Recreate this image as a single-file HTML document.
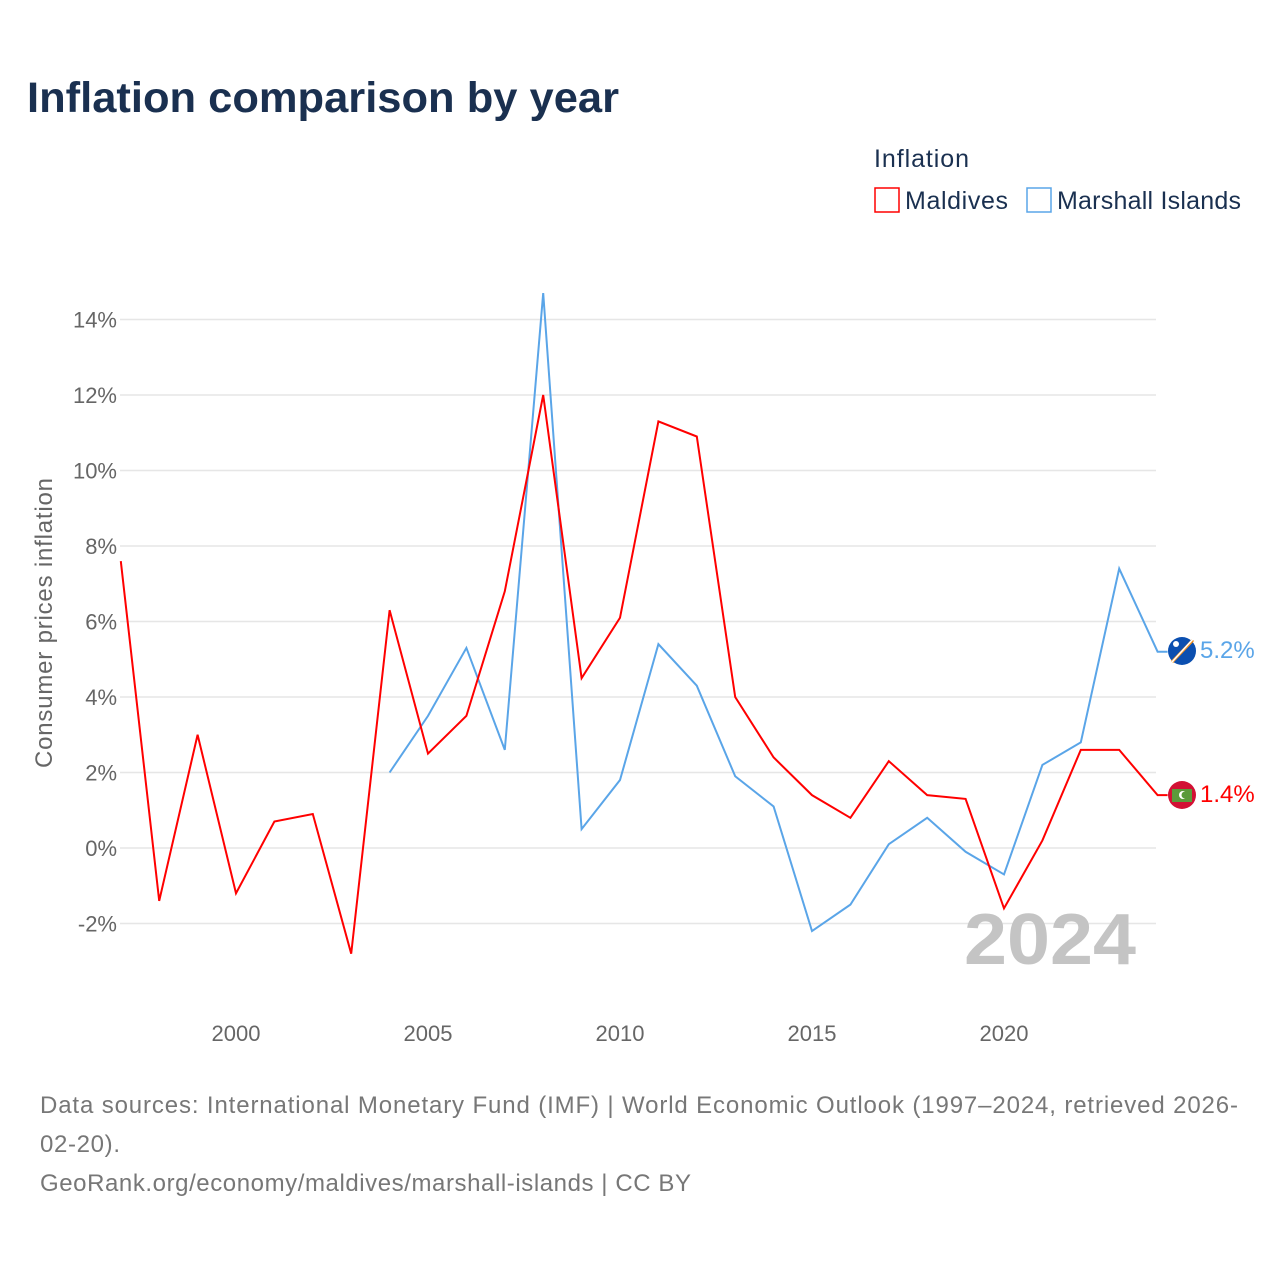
<!DOCTYPE html>
<html><head><meta charset="utf-8"><style>
body{margin:0;background:#fff;font-family:"Liberation Sans",sans-serif;}
</style></head><body>
<svg width="1280" height="1280" xmlns="http://www.w3.org/2000/svg" style="font-family:'Liberation Sans',sans-serif">
<text x="27" y="112" font-size="43" font-weight="bold" fill="#1a3050" textLength="592" lengthAdjust="spacingAndGlyphs">Inflation comparison by year</text>
<text x="874" y="167" font-size="25" fill="#1a3050" textLength="95">Inflation</text>
<g><rect x="875" y="188" width="24" height="24" fill="none" stroke="#f00" stroke-width="1.5"/><text x="905" y="209" font-size="25" fill="#1a3050" textLength="103">Maldives</text></g>
<g><rect x="1027" y="188" width="24" height="24" fill="none" stroke="#5aa5e8" stroke-width="1.5"/><text x="1057" y="209" font-size="25" fill="#1a3050" textLength="184">Marshall Islands</text></g>
<g id="grid"></g><g id="yt"></g><g id="xt"></g>
<text x="52" y="623" font-size="24" fill="#666" transform="rotate(-90 52 623)" text-anchor="middle" textLength="290">Consumer prices inflation</text>
<text x="964" y="964" font-size="72" font-weight="bold" fill="#c4c4c4" textLength="172" lengthAdjust="spacingAndGlyphs">2024</text>
<g id="lines"></g>
<g><circle cx="1182" cy="651" r="14" fill="#0b4fb0"/><line x1="1172" y1="662" x2="1193" y2="640" stroke="#f7931e" stroke-width="3"/><line x1="1172" y1="662" x2="1193" y2="639" stroke="#fff" stroke-width="1.5"/><circle cx="1176" cy="644" r="3" fill="#fff"/></g>
<text x="1200" y="658" font-size="24" fill="#5aa5e8">5.2%</text>
<g><circle cx="1182" cy="795" r="14" fill="#d21034"/><rect x="1172" y="789" width="20" height="13" fill="#5b9a3b"/><circle cx="1183" cy="795" r="4" fill="#fff"/><circle cx="1185" cy="795" r="3.5" fill="#5b9a3b"/></g>
<text x="1200" y="802" font-size="24" fill="#f00">1.4%</text>
<text x="40" y="1113" font-size="24" fill="#777" textLength="1198">Data sources: International Monetary Fund (IMF) | World Economic Outlook (1997–2024, retrieved 2026-</text>
<text x="40" y="1152" font-size="24" fill="#777" textLength="80">02-20).</text>
<text x="40" y="1191" font-size="24" fill="#777" textLength="651">GeoRank.org/economy/maldives/marshall-islands | CC BY</text>
</svg>
<script>
const yearsMV=[1997,1998,1999,2000,2001,2002,2003,2004,2005,2006,2007,2008,2009,2010,2011,2012,2013,2014,2015,2016,2017,2018,2019,2020,2021,2022,2023,2024];
const maldives=[7.6,-1.4,3.0,-1.2,0.7,0.9,-2.8,6.3,2.5,3.5,6.8,12.0,4.5,6.1,11.3,10.9,4.0,2.4,1.4,0.8,2.3,1.4,1.3,-1.6,0.2,2.6,2.6,1.4];
const yearsMH=[2004,2005,2006,2007,2008,2009,2010,2011,2012,2013,2014,2015,2016,2017,2018,2019,2020,2021,2022,2023,2024];
const marshall=[2.0,3.5,5.3,2.6,14.7,0.5,1.8,5.4,4.3,1.9,1.1,-2.2,-1.5,0.1,0.8,-0.1,-0.7,2.2,2.8,7.4,5.2];
const yTicks=[-2,0,2,4,6,8,10,12,14];
const xTicks=[2000,2005,2010,2015,2020];
const X=y=>120.8+(y-1997)*38.4, Y=v=>848-v*37.75;
const NS="http://www.w3.org/2000/svg";
function mk(t,a,p){const e=document.createElementNS(NS,t);for(const k in a)e.setAttribute(k,a[k]);p.appendChild(e);return e;}
const g=document.getElementById('grid'),yt=document.getElementById('yt'),xt=document.getElementById('xt'),L=document.getElementById('lines');
yTicks.forEach(v=>{const l=mk('line',{x1:120,x2:1156,y1:Y(v),y2:Y(v),stroke:'#e6e6e6','stroke-width':1.5},g);


const t=mk('text',{x:117,y:Y(v)+8,'font-size':22,fill:'#666','text-anchor':'end'},yt);t.textContent=v+'%';

});
xTicks.forEach(v=>{const t=mk('text',{x:X(v),y:1041,'font-size':22,fill:'#666','text-anchor':'middle'},xt);t.textContent=v;

});
function line(ys,vs,c,name){let pts=ys.map((y,i)=>X(y)+','+Y(vs[i]));pts.push((X(ys[ys.length-1])+10)+','+Y(vs[vs.length-1]));
const p=mk('polyline',{points:pts.join(' '),fill:'none',stroke:c,'stroke-width':2,'stroke-linejoin':'miter'},L);

}
line(yearsMH,marshall,'#5aa5e8','line-marshall-islands');
line(yearsMV,maldives,'#f00','line-maldives');
</script>
</body></html>
